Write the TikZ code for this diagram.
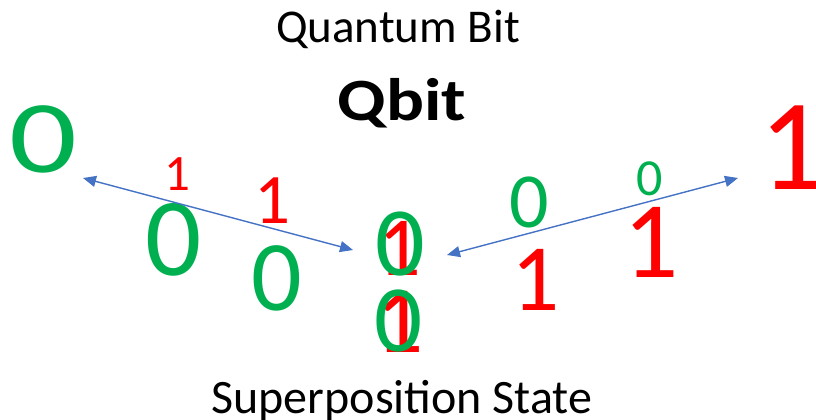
\documentclass[tikz,border=0pt]{standalone}
\usepackage{fontspec}
\setmainfont{Carlito}
\usepackage[table]{xcolor}
\usepackage{graphicx}
\usepackage{tikz}
\usetikzlibrary{arrows.meta}

\definecolor{bitgreen}{RGB}{0,176,80}
\definecolor{bitred}{RGB}{255,0,0}
\definecolor{linkblue}{RGB}{68,114,196}

\begin{document}
\begin{tikzpicture}[x=1pt,y=-1pt,
	zero/.style={text=bitgreen, inner sep=0pt, anchor=base, font=\fontsize{#1}{#1}\selectfont},
	one/.style={text=bitred, inner sep=0pt, anchor=base, font=\fontsize{#1}{#1}\selectfont},
	label/.style={inner sep=0pt, anchor=base, font=\fontsize{#1}{#1}\selectfont},
	link/.style={draw=linkblue, line width=1.4pt, {Triangle[length=13pt,width=11pt]}-{Triangle[length=13pt,width=11pt]}}]
\useasboundingbox (0,0) rectangle (816,420);
% titles
\node [label=47] (title) at (398,43) {Quantum Bit};
\node [label=60, font=\bfseries\fontsize{60}{60}\selectfont] (qbit) at (402,120) {\scalebox{1.18}[1]{Qbit}};
\node [label=48] (state) at (402,413) {Superposition State};
% the two pure states
\node [zero=103] (zleft) at (43.5,172) {\scalebox{1.3}[1]{0}};
\node [one=130] (oright) at (792,189) {1};
% digits along the left arrow
\node [one=51] (a1) at (177,190) {1};
\node [one=71] (a2) at (272,223) {1};
\node [zero=111] (a3) at (174,275) {0};
\node [zero=100] (a4) at (277,310) {0};
% digits along the right arrow
\node [zero=78] (b1) at (529,227) {0};
\node [zero=52] (b2) at (650,195) {0};
\node [one=95] (b3) at (536,310) {1};
\node [one=109] (b4) at (651,277) {1};
% superposed digits, the 1 under the 0
\node [one=84] (m1) at (400,275) {1};
\node [zero=98] (m0) at (400,275) {0};
\node [one=95] (n1) at (400,352) {1};
\node [zero=95] (n0) at (399,351) {0};
% arrows
\coordinate (l-end) at (83,178);
\coordinate (l-mid) at (353,250);
\coordinate (r-mid) at (447,255);
\coordinate (r-end) at (738,178);
\draw [link] (l-end) -- (l-mid);
\draw [link] (r-mid) -- (r-end);
\end{tikzpicture}
\end{document}
